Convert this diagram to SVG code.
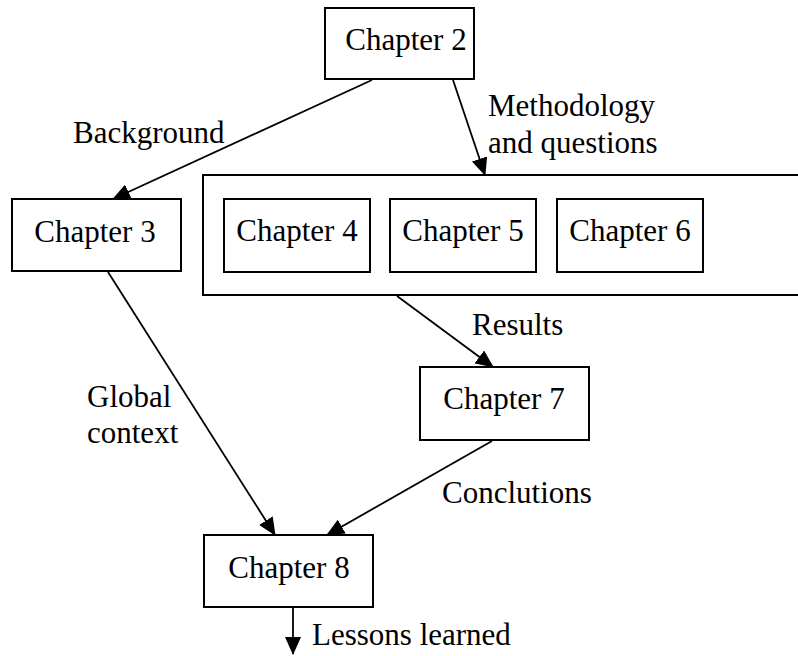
<svg xmlns="http://www.w3.org/2000/svg" width="798" height="656" viewBox="0 0 798 656">
  <style>
    .box { fill: #fff; stroke: #000; stroke-width: 2; }
    .t { font-family: 'Liberation Serif', 'Times New Roman', Times, serif; font-size: 31px; fill: #000; }
    .c { text-anchor: middle; }
    .edge { stroke: #000; stroke-width: 1.8; fill: none; marker-end: url(#arrow); }
  </style>
  <defs>
    <marker id="arrow" markerUnits="userSpaceOnUse" markerWidth="18" markerHeight="16" refX="17" refY="8" orient="auto">
      <path d="M0,0 L18,8 L0,16 Z" fill="#000"/>
    </marker>
  </defs>
  <rect width="798" height="656" fill="#fff"/>

  <g id="chapter2">
    <rect class="box" x="325" y="8" width="149" height="71"/>
    <text class="t c" x="406" y="50">Chapter 2</text>
  </g>
  <g id="chapter3">
    <rect class="box" x="12" y="199" width="169" height="72"/>
    <text class="t c" x="95" y="242">Chapter 3</text>
  </g>
  <g id="group-4-6">
    <rect class="box" x="203" y="175" width="610" height="120"/>
  </g>
  <g id="chapter4">
    <rect class="box" x="224" y="199" width="146" height="73"/>
    <text class="t c" x="297" y="241">Chapter 4</text>
  </g>
  <g id="chapter5">
    <rect class="box" x="390" y="199" width="146" height="73"/>
    <text class="t c" x="463" y="241">Chapter 5</text>
  </g>
  <g id="chapter6">
    <rect class="box" x="557" y="199" width="146" height="73"/>
    <text class="t c" x="630" y="241">Chapter 6</text>
  </g>
  <g id="chapter7">
    <rect class="box" x="420" y="367" width="169" height="73"/>
    <text class="t c" x="504" y="409">Chapter 7</text>
  </g>
  <g id="chapter8">
    <rect class="box" x="204" y="535" width="169" height="72"/>
    <text class="t c" x="289" y="578">Chapter 8</text>
  </g>

  <g id="connectors">
    <line class="edge" x1="372" y1="80" x2="113" y2="199"/>
    <line class="edge" x1="453" y1="80" x2="485" y2="175"/>
    <line class="edge" x1="397" y1="296" x2="493" y2="367"/>
    <line class="edge" x1="108" y1="272" x2="275" y2="535"/>
    <line class="edge" x1="492" y1="441" x2="327" y2="535"/>
    <line class="edge" x1="293" y1="608" x2="293" y2="654"/>
  </g>

  <g id="labels">
    <text class="t" x="73" y="143">Background</text>
    <text class="t" x="488" y="116">Methodology</text>
    <text class="t" x="488" y="153">and questions</text>
    <text class="t" x="472" y="335">Results</text>
    <text class="t" x="87" y="407">Global</text>
    <text class="t" x="87" y="443">context</text>
    <text class="t" x="442" y="503">Conclutions</text>
    <text class="t" x="312" y="645">Lessons learned</text>
  </g>
</svg>
